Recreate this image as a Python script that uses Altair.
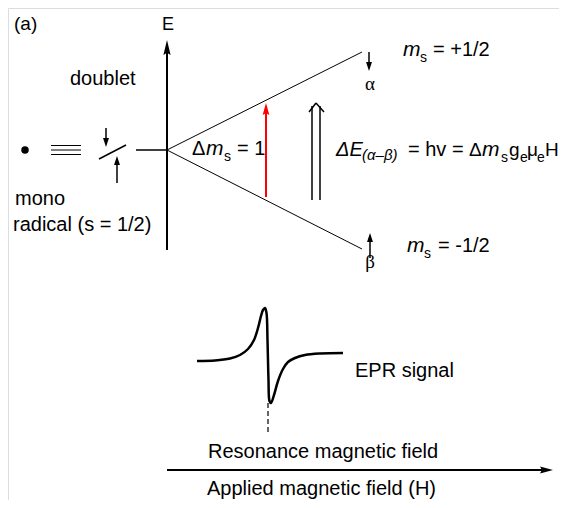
import altair as alt
import pandas as pd

# ---------------- diagram geometry (reference pixel coordinates) ----------------
# straight segments
seg_x1 = [167, 136, 51, 51, 51, 99, 106, 117, 167, 167, 266, 312, 320, 309, 316, 369, 370, 167]
seg_y1 = [250, 150, 145.5, 150, 154.5, 159, 128, 183, 150, 150, 197, 200, 200, 112, 103, 52, 258, 470]
seg_x2 = [167, 167, 81, 81, 81, 126, 106, 117, 362, 362, 266, 312, 320, 316, 324, 369, 370, 542]
seg_y2 = [52, 150, 145.5, 150, 154.5, 145, 140, 163, 52, 249, 112, 106, 106, 103, 112, 63, 242, 470]
seg_w = [2, 1.5, 1, 1, 1, 1.5, 1.5, 1.5, 1, 1, 2, 1.5, 1.5, 1.5, 1.5, 1.5, 1.5, 2]
seg_c = ["#000"] * 10 + ["#ff0000"] + ["#000"] * 7

# arrow heads: tip position, direction angle (0 = up), length, shape
head_x = [167, 106, 117, 266, 369, 370, 553]
head_y = [40, 147, 156, 103, 71, 233, 470]
head_ang = [0, 180, 0, 0, 180, 0, 90]
head_len = [15, 9, 9, 12, 9, 9, 13]
head_c = ["#000", "#000", "#000", "#ff0000", "#000", "#000", "#000"]
head_shape = ["M0,0L0.24,1L0,0.85L-0.24,1Z",
              "M0,0L0.33,1L-0.33,1Z", "M0,0L0.33,1L-0.33,1Z",
              "M0,0L0.28,1L0,0.85L-0.28,1Z",
              "M0,0L0.33,1L-0.33,1Z", "M0,0L0.33,1L-0.33,1Z",
              "M0,0L0.27,1L0,0.85L-0.27,1Z"]

# dot of the radical
dot_x = [25]
dot_y = [150]

# dashed marker under resonance
dash_x = [268, 268]
dash_y = [403, 435]

# EPR derivative signal
epr_x = [197, 215, 230, 240, 248, 254, 258, 261, 263, 265, 266.5, 267.5, 268.5, 269.5, 271, 274, 278, 283, 288, 295, 305, 320, 343]
epr_y = [361, 360.5, 358.5, 355, 349, 340, 328, 316, 310, 308, 313, 340, 380, 401, 403, 395, 381, 369, 362, 358, 355, 353.5, 353]

# text pieces
txt_label = ["(a)", "E", "doublet", "mono", "radical (s = 1/2)",
             "Δ", "m", "s", "= 1",
             "m", "s", "= +1/2",
             "m", "s", "= -1/2",
             "α", "β",
             "ΔE", "(α–β)", "= hv =", "Δ", "m", "s", "g", "e", "μ", "e", "H",
             "EPR signal", "Resonance magnetic field", "Applied magnetic field (H)"]
txt_x = [14, 162, 70, 15, 13,
         192, 206, 224, 237,
         403, 420, 433,
         407, 424, 438,
         370, 370,
         336, 362, 408, 469, 482, 501, 509, 520, 527, 537, 545,
         355, 208, 207]
txt_y = [30, 30, 85, 205, 231,
         155, 155, 161, 155,
         56, 62, 56,
         252, 258, 252,
         90, 268,
         156, 160, 156, 156, 156, 162, 156, 162, 156, 162, 156,
         377, 458, 495]
txt_size = [19, 18, 20, 20, 20,
            20, 21, 14, 20,
            21, 14, 20,
            21, 14, 20,
            19, 19,
            20, 15, 20, 19, 21, 14, 19, 14, 19, 14, 19,
            20, 20, 20]
txt_style = ["n", "n", "n", "n", "n",
             "n", "i", "n", "n",
             "i", "n", "n",
             "i", "n", "n",
             "s", "s",
             "i", "i", "n", "n", "i", "n", "n", "n", "n", "n", "n",
             "n", "n", "n"]

# ---------------- build ----------------
W, H = 551, 492
xs = alt.Scale(domain=[8, 559], nice=False, zero=False)
ys = alt.Scale(domain=[8, 500], nice=False, zero=False, reverse=True)


def X(f):
    return alt.X(f, type="quantitative", scale=xs, axis=None)


def Y(f):
    return alt.Y(f, type="quantitative", scale=ys, axis=None)


segs = pd.DataFrame({"x": seg_x1, "y": seg_y1, "x2": seg_x2, "y2": seg_y2, "w": seg_w, "c": seg_c})
heads = pd.DataFrame({"x": head_x, "y": head_y, "a": head_ang,
                      "s": [(2 * l) ** 2 for l in head_len], "c": head_c, "sh": head_shape})
dots = pd.DataFrame({"x": dot_x, "y": dot_y})
dashes = pd.DataFrame({"x": dash_x, "y": dash_y})
epr = pd.DataFrame({"x": epr_x, "y": epr_y, "o": list(range(len(epr_x)))})
texts = pd.DataFrame({"t": txt_label, "x": txt_x, "y": txt_y, "s": txt_size, "st": txt_style})

seg_layer = alt.Chart(segs).mark_rule(strokeCap="butt").encode(
    x=X("x"), y=Y("y"), x2="x2", y2="y2",
    strokeWidth=alt.StrokeWidth("w:Q", scale=None),
    color=alt.Color("c:N", scale=None),
)

head_layer = alt.Chart(heads).mark_point(filled=True, opacity=1, strokeWidth=0).encode(
    x=X("x"), y=Y("y"),
    shape=alt.Shape("sh:N", scale=None),
    angle=alt.Angle("a:Q", scale=None),
    size=alt.Size("s:Q", scale=None),
    color=alt.Color("c:N", scale=None),
)

dot_layer = alt.Chart(dots).mark_point(shape="circle", filled=True, size=56, color="#000", opacity=1).encode(
    x=X("x"), y=Y("y"))

dash_layer = alt.Chart(dashes).mark_line(color="#000", strokeWidth=1.2, strokeDash=[5, 3]).encode(
    x=X("x"), y=Y("y"))

epr_layer = alt.Chart(epr).mark_line(color="#000", strokeWidth=2.5, interpolate="catmull-rom").encode(
    x=X("x"), y=Y("y"), order="o:Q")

base_txt = alt.Chart(texts)
txt_n = base_txt.transform_filter(alt.datum.st == "n").mark_text(
    align="left", baseline="alphabetic", font="Liberation Sans", color="#000").encode(
    x=X("x"), y=Y("y"), text="t:N", size=alt.Size("s:Q", scale=None))
txt_i = base_txt.transform_filter(alt.datum.st == "i").mark_text(
    align="left", baseline="alphabetic", font="Liberation Sans", fontStyle="italic", color="#000").encode(
    x=X("x"), y=Y("y"), text="t:N", size=alt.Size("s:Q", scale=None))
txt_s = base_txt.transform_filter(alt.datum.st == "s").mark_text(
    align="center", baseline="alphabetic", font="Liberation Serif", color="#000").encode(
    x=X("x"), y=Y("y"), text="t:N", size=alt.Size("s:Q", scale=None))

chart = alt.layer(
    seg_layer, dash_layer, epr_layer, head_layer, dot_layer, txt_n, txt_i, txt_s
).properties(
    width=W, height=H, padding=0, autosize=alt.AutoSizeParams(type="none")
).configure_view(strokeWidth=0, stroke="transparent").configure(background="white")

chart.save("out.html", embed_options={"renderer": "svg", "actions": False})
